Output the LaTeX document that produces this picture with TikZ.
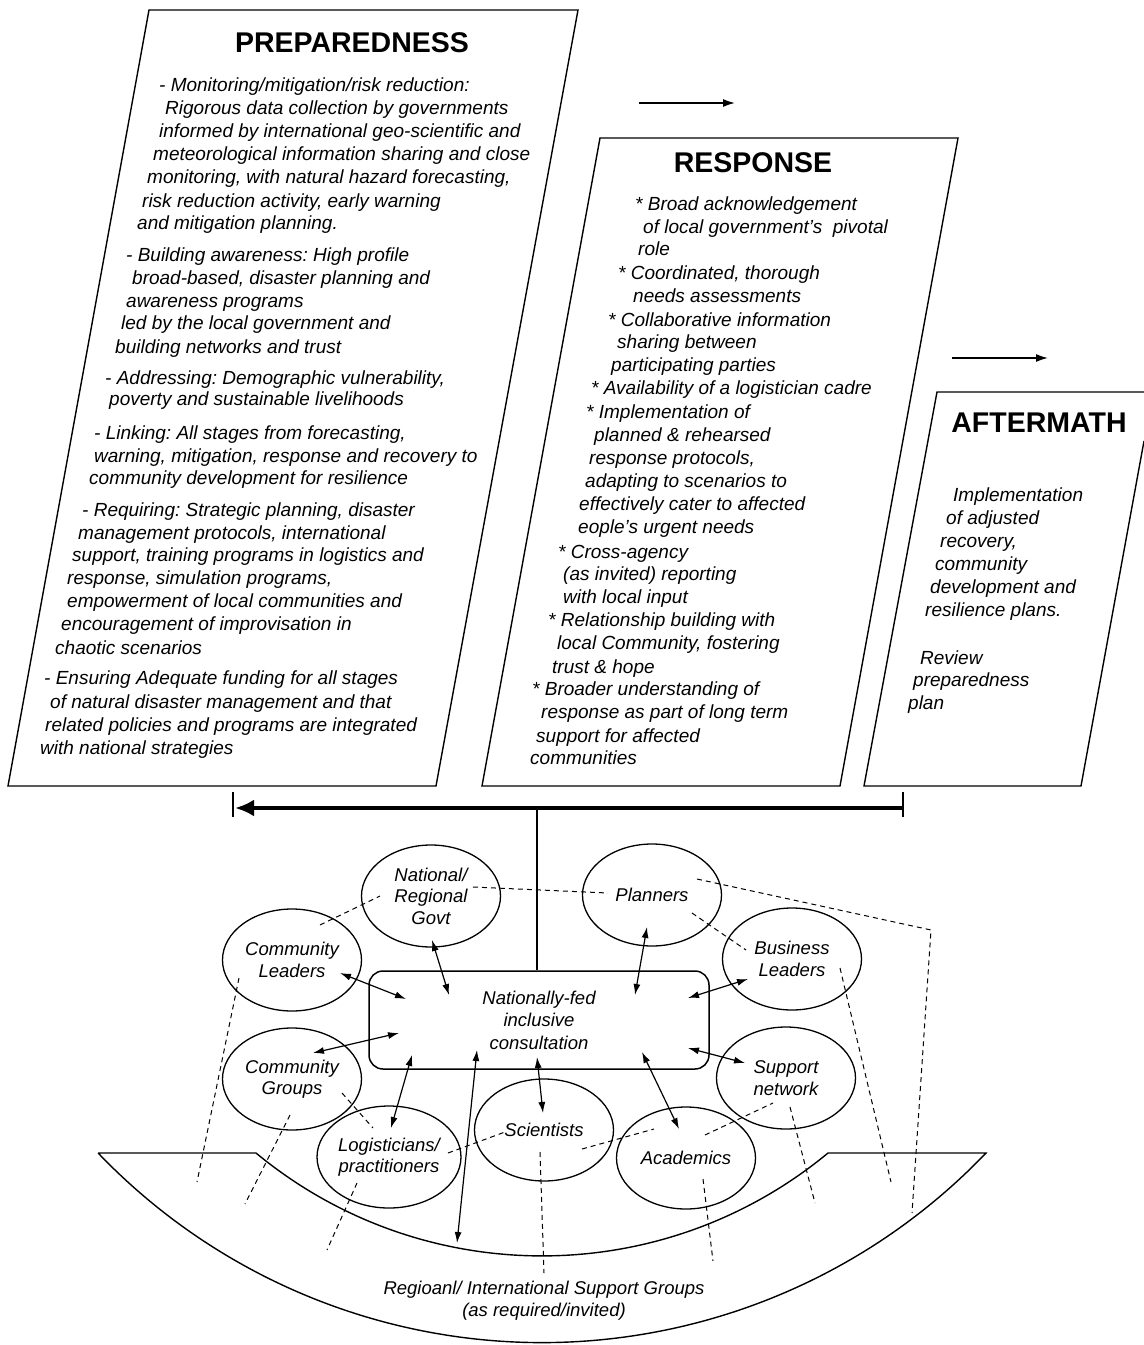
\documentclass[tikz,border=0pt]{standalone}
\usepackage{fontspec}
\setmainfont{Liberation Sans}
\usetikzlibrary{arrows.meta,shapes.geometric,calc}
\frenchspacing

\begin{document}
\begin{tikzpicture}[x=1pt,y=-1pt,
  panel/.style={draw=black, line width=1.4pt},
  heading/.style={font=\bfseries\fontsize{28.5}{30}\selectfont, anchor=base, inner sep=0pt},
  body/.style={font=\itshape\fontsize{19}{23}\selectfont, anchor=base west, inner sep=0pt},
  actor/.style={draw, ellipse, line width=1.3pt, inner sep=0pt, minimum width=139pt,
    minimum height=102pt, align=center, font=\itshape\fontsize{18.5}{21.5}\selectfont},
  hub/.style={draw, rounded corners=14pt, line width=1.5pt, minimum width=340pt,
    minimum height=98pt, align=center, font=\itshape\fontsize{18.5}{22.5}\selectfont},
  link/.style={line width=1.2pt, {Latex[length=11pt,width=7pt]}-{Latex[length=11pt,width=7pt]}},
  tie/.style={line width=1pt, dash pattern=on 5pt off 4pt},
  flow/.style={line width=1.6pt, -{Latex[length=12pt,width=8pt]}},
  feedback/.style={line width=4.5pt, -{Latex[length=19pt,width=17pt]}},
  tick/.style={line width=2pt},
]
\useasboundingbox (0,0) rectangle (1144,1345);
\fill[white] (0,0) rectangle (1144,1345);

% ---------- the three phase panels ----------
\draw[panel] (149,10) -- (578,10) -- (436,786) -- (8,786) -- cycle;
\draw[panel] (600,138) -- (958,138) -- (840,786) -- (482,786) -- cycle;
\draw[panel] (1144,392) -- (937,392) -- (864,786) -- (1081,786) -- (1144,441);

\node[heading] (hprep) at (352,52) {PREPAREDNESS};
\node[heading] (hresp) at (753,172) {RESPONSE};
\node[heading] (haft) at (1039,432) {AFTERMATH};

% arrows between the phases
\coordinate (f1a) at (639,103); \coordinate (f1b) at (735,103);
\coordinate (f2a) at (952,358); \coordinate (f2b) at (1048,358);
\draw[flow] (f1a) -- (f1b);
\draw[flow] (f2a) -- (f2b);

% ---------- panel texts ----------
\foreach \x/\y/\t [count=\i] in {
  159/91/{- Monitoring/mitigation/risk reduction:},
  165/114/{Rigorous data collection by governments},
  159/137/{informed by international geo-scientific and},
  153/160/{meteorological information sharing and close},
  147/183/{monitoring, with natural hazard forecasting,},
  142/207/{risk reduction activity, early warning},
  137/229/{and mitigation planning.},
  126/261/{- Building awareness: High profile},
  132/284/{broad-based, disaster planning and},
  126/307/{awareness programs},
  121/329/{led by the local government and},
  115/353/{building networks and trust},
  105/384/{- Addressing: Demographic vulnerability,},
  109/405/{poverty and sustainable livelihoods},
  94/439/{- Linking: All stages from forecasting,},
  94/462/{warning, mitigation, response and recovery to},
  89/484/{community development for resilience},
  82/516/{- Requiring: Strategic planning, disaster},
  78/539/{management protocols, international},
  72/561/{support, training programs in logistics and},
  67/584/{response, simulation programs,},
  67/607/{empowerment of local communities and},
  61/630/{encouragement of improvisation in},
  55/654/{chaotic scenarios},
  44/684/{- Ensuring Adequate funding for all stages},
  50/708/{of natural disaster management and that},
  45/731/{related policies and programs are integrated},
  40/754/{with national strategies}}
  \node[body] (p\i) at (\x,\y) {\t};

\foreach \x/\y/\t [count=\i] in {
  635/210/{* Broad acknowledgement},
  643/233/{of local government’s\ \ pivotal},
  638/255/{role},
  618/279/{* Coordinated, thorough},
  633/302/{needs assessments},
  608/326/{* Collaborative information},
  617/348/{sharing between},
  611/371/{participating parties},
  591/394/{* Availability of a logistician cadre},
  586/418/{* Implementation of},
  594/441/{planned \& rehearsed},
  589/464/{response protocols,},
  585/487/{adapting to scenarios to},
  579/510/{effectively cater to affected},
  578/533/{eople’s urgent needs},
  558/558/{* Cross-agency},
  563/580/{(as invited) reporting},
  563/603/{with local input},
  548/626/{* Relationship building with},
  557/649/{local Community, fostering},
  552/673/{trust \& hope},
  532/695/{* Broader understanding of},
  541/718/{response as part of long term},
  536/742/{support for affected},
  530/764/{communities}}
  \node[body] (r\i) at (\x,\y) {\t};

\foreach \x/\y/\t [count=\i] in {
  953/501/{Implementation},
  946/524/{of adjusted},
  940/547/{recovery,},
  935/570/{community},
  930/593/{development and},
  925/616/{resilience plans.},
  920/664/{Review},
  913/686/{preparedness},
  908/709/{plan}}
  \node[body] (a\i) at (\x,\y) {\t};

% ---------- feedback bar ----------
\coordinate (barR) at (903,808);
\coordinate (barL) at (235,808);
\coordinate (join) at (537,808);
\draw[tick] (233,792) -- (233,817);
\draw[tick] (903,792) -- (903,817);
\draw[feedback] (barR) -- (barL);

% ---------- consultation hub and stakeholders ----------
\node[hub] (hub) at (539,1020) {Nationally-fed\\inclusive\\consultation};
\draw[line width=2pt] (join) -- (join |- hub.north);

\node[actor] (gov) at (431,896) {National/\\Regional\\Govt};
\node[actor] (plan) at (652,895) {Planners};
\node[actor] (cl) at (292,960) {Community\\Leaders};
\node[actor] (bl) at (792,959) {Business\\Leaders};
\node[actor] (cg) at (292,1079) {Community\\Groups};
\node[actor] (sn) at (786,1078) {Support\\network};
\node[actor] (lp) at (389,1157) {Logisticians/\\practitioners};
\node[actor] (sci) at (544,1130) {Scientists};
\node[actor] (aca) at (686,1158) {Academics};

% outer support band
\draw[panel] (98,1153) -- (256,1153)
  arc[start angle=129.58, end angle=50.42, radius=448.9] -- (986,1153)
  arc[start angle=43.75, end angle=136.25, radius=614.6] -- cycle;
\node[align=center, inner sep=0pt, font=\itshape\fontsize{18.5}{22}\selectfont] (intl)
  at (544,1301) {Regioanl/ International Support Groups\\(as required/invited)};

% two-way exchanges with the hub
\coordinate (clA) at (340,973);  \coordinate (clB) at (406,999);
\coordinate (govA) at (432,940); \coordinate (govB) at (449,995);
\coordinate (plA) at (647,927);  \coordinate (plB) at (635,995);
\coordinate (blA) at (748,979);  \coordinate (blB) at (688,998);
\coordinate (cgA) at (313,1053); \coordinate (cgB) at (399,1033);
\coordinate (snA) at (745,1063); \coordinate (snB) at (688,1048);
\coordinate (lpA) at (391,1128); \coordinate (lpB) at (412,1055);
\coordinate (igA) at (457,1243); \coordinate (igB) at (477,1050);
\coordinate (scA) at (543,1113); \coordinate (scB) at (537,1057);
\coordinate (acA) at (679,1129); \coordinate (acB) at (642,1052);
\foreach \s in {cl,gov,pl,bl,cg,sn,lp,ig,sc,ac}
  \draw[link] (\s A) -- (\s B);

% informal ties between stakeholders and to the support band
\coordinate (t1a) at (320,925);  \coordinate (t1b) at (380,896);
\coordinate (t2a) at (473,887);  \coordinate (t2b) at (608,893);
\coordinate (t3a) at (239,978);  \coordinate (t3b) at (197,1182);
\coordinate (t4a) at (692,913);  \coordinate (t4b) at (746,950);
\coordinate (t5a) at (697,879);  \coordinate (t5m) at (931,930); \coordinate (t5b) at (912,1213);
\coordinate (t6a) at (840,968);  \coordinate (t6b) at (891,1182);
\coordinate (t7a) at (342,1093); \coordinate (t7b) at (373,1128);
\coordinate (t8a) at (290,1115); \coordinate (t8b) at (245,1204);
\coordinate (t9a) at (448,1153); \coordinate (t9b) at (505,1132);
\coordinate (t10a) at (357,1183); \coordinate (t10b) at (327,1250);
\coordinate (t11a) at (540,1152); \coordinate (t11b) at (544,1273);
\coordinate (t12a) at (582,1149); \coordinate (t12b) at (654,1129);
\coordinate (t13a) at (705,1135); \coordinate (t13b) at (773,1103);
\coordinate (t14a) at (790,1107); \coordinate (t14b) at (815,1203);
\coordinate (t15a) at (703,1179); \coordinate (t15b) at (713,1261);
\foreach \k in {1,2,3,4,6,7,8,9,10,11,12,13,14,15}
  \draw[tie] (t\k a) -- (t\k b);
\draw[tie] (t5a) -- (t5m) -- (t5b);

\end{tikzpicture}
\end{document}
